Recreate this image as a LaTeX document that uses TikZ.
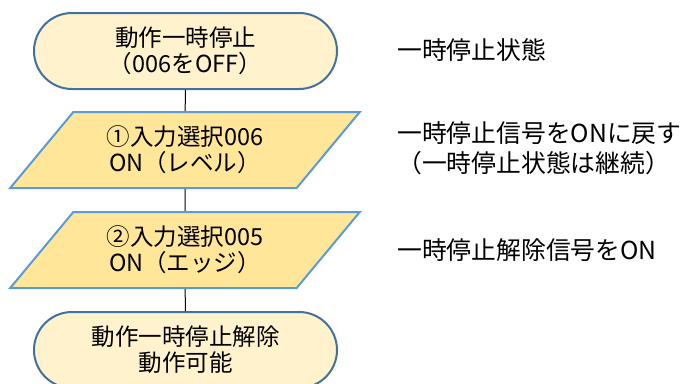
\documentclass[tikz,border=0pt]{standalone}
\usepackage{fontspec}
\newfontfamily\jp{Noto Sans CJK JP}
\usetikzlibrary{shapes.misc,shapes.geometric}
\definecolor{termfill}{HTML}{FFF2CC}
\definecolor{termline}{HTML}{41719C}
\definecolor{iofill}{HTML}{FFE699}
\definecolor{ioline}{HTML}{5B9BD5}
\tikzset{
  term/.style={rounded rectangle, draw=termline, fill=termfill, line width=2pt,
    minimum width=303pt, minimum height=76pt, inner sep=0pt, align=center,
    font=\jp\fontsize{23.5}{26}\selectfont},
  iobox/.style={trapezium, trapezium left angle=47.4, trapezium right angle=132.6,
    trapezium stretches=true, draw=ioline, fill=iofill, line width=2pt,
    minimum width=350pt, minimum height=76pt, inner sep=0pt, align=center,
    font=\jp\fontsize{23.5}{26}\selectfont},
  note/.style={anchor=west, align=left, inner sep=0pt,
    font=\jp\fontsize{24.8}{30}\selectfont},
  conn/.style={draw=black, line width=1pt}
}
\begin{document}
\begin{tikzpicture}[x=1pt,y=-1pt]
\useasboundingbox (0,0) rectangle (687,383);
\clip (0,0) rectangle (687,383);
\fill[white] (0,0) rectangle (687,383);
\node[term] (t1) at (185.5,51) {動作一時停止\\（006をOFF）};
\node[iobox] (p1) at (185,150) {①入力選択006\\ON（レベル）};
\node[iobox] (p2) at (185,250) {②入力選択005\\ON（エッジ）};
\node[term] (t2) at (185.5,350) {動作一時停止解除\\動作可能};
\draw[conn] (t1) -- (p1);
\draw[conn] (p1) -- (p2);
\draw[conn] (p2) -- (t2);
\node[note] (n1) at (397,50) {一時停止状態};
\node[note] (n2) at (397,148) {一時停止信号をONに戻す\\（一時停止状態は継続）};
\node[note] (n3) at (397,250) {一時停止解除信号をON};
\end{tikzpicture}
\end{document}
